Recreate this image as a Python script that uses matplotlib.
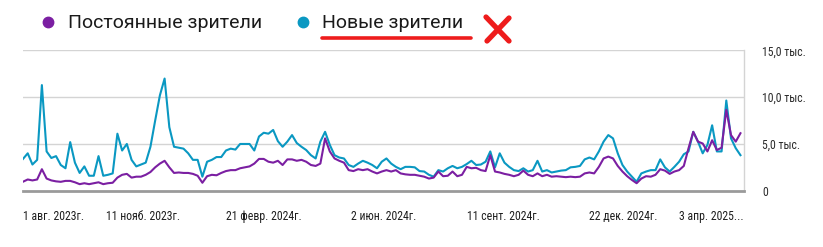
import numpy as np
import pandas as pd
import matplotlib
matplotlib.use('Agg')
import matplotlib.pyplot as plt
from matplotlib.lines import Line2D
from matplotlib.ticker import FuncFormatter
from matplotlib import font_manager

# данные: значения каждые 4 дня, начиная с 1 авг. 2023
start_date = '2023-08-01'
step_days = 4

new_viewers = [
    3400, 4000, 2800, 3300, 11300, 4200, 3500, 3700, 2750, 2400,
    5200, 3000, 1900, 2600, 1600, 1600, 3700, 1600, 1700, 1850,
    6100, 4300, 5000, 3300, 2600, 2800, 3000, 4700, 7500, 10200,
    12000, 6800, 4700, 4600, 4500, 4000, 3300, 3300, 1500, 3100,
    3300, 3600, 3600, 4300, 4500, 4400, 5000, 5000, 5000, 4300,
    5800, 6200, 6100, 6500, 5300, 4700, 5250, 5950, 5100, 4700,
    4350, 3800, 3450, 5250, 6300, 4900, 3800, 3550, 3450, 2750,
    2550, 2900, 3200, 3000, 2750, 2400, 3100, 3450, 2900, 2550,
    2300, 2550, 2550, 2500, 2100, 2050, 1700, 1500, 2200, 2050,
    2400, 2650, 2400, 2550, 2850, 3200, 2750, 2800, 3100, 4200,
    2500, 4000, 3000, 2550, 2200, 2100, 2400, 2050, 2200, 3200,
    2050, 2200, 1950, 2050, 2150, 2200, 2500, 2550, 2650, 3350,
    3550, 3350, 4200, 5250, 5950, 5600, 4000, 2750, 2050, 1500,
    960, 1850, 2050, 2200, 2200, 3350, 2500, 2050, 2550, 3100,
    3900, 4200, 6300, 5250, 4000, 4900, 7000, 4200, 4200, 9650,
    5600, 4550, 3800,
]

returning_viewers = [
    960, 1200, 1100, 1200, 2300, 1300, 1100, 1000, 950, 1050,
    1050, 900, 700, 800, 700, 800, 900, 700, 800, 850,
    1400, 1700, 1800, 1400, 1500, 1500, 1700, 2000, 2500, 2900,
    3200, 2500, 1900, 1950, 1900, 1900, 1800, 1600, 850, 1550,
    1700, 1650, 1900, 2100, 2200, 2200, 2400, 2500, 2600, 2900,
    3400, 3400, 3100, 3000, 3200, 2750, 3350, 3350, 3200, 3300,
    3100, 2750, 2650, 2900, 5600, 4200, 3450, 3200, 3000, 2200,
    2100, 2300, 2200, 2300, 2050, 1850, 2050, 2200, 2050, 2200,
    1850, 1750, 1700, 1700, 1600, 1500, 1300, 1400, 2050, 1550,
    1600, 2050, 1550, 1700, 2550, 2400, 2450, 2200, 2100, 3800,
    2050, 1950, 1800, 1700, 1550, 1700, 2150, 1700, 1550, 1850,
    1550, 1700, 1500, 1550, 1500, 1450, 1500, 1450, 1500, 1850,
    1950, 1850, 2550, 3450, 3650, 3450, 2650, 2050, 1550, 1150,
    800, 1300, 1550, 1500, 1700, 2300, 2150, 1800, 2050, 2200,
    2650, 4550, 6300, 5250, 5050, 4200, 5400, 4350, 4600, 8650,
    5950, 5250, 6150,
]

tick_dates = ['2023-08-01', '2023-11-11', '2024-02-21', '2024-06-02',
              '2024-09-11', '2024-12-22', '2025-04-03']
tick_labels = ['1 авг. 2023г.', '11 нояб. 2023г.', '21 февр. 2024г.', '2 июн. 2024г.',
               '11 сент. 2024г.', '22 дек. 2024г.', '3 апр. 2025...']
y_ticks = [0, 5000, 10000, 15000]

labels = ['Постоянные зрители', 'Новые зрители']
colors = ['#7b1fa2', '#0a98c2']

dates = pd.date_range(start_date, periods=len(new_viewers), freq=f'{step_days}D')

# узкий шрифт для подписей осей, если есть
names = {f.name for f in font_manager.fontManager.ttflist}
narrow = [n for n in ['Liberation Sans Narrow', 'Roboto Condensed', 'DejaVu Sans Condensed']
          if n in names] + ['DejaVu Sans']

fig = plt.figure(figsize=(8.23, 2.47), dpi=100)
ax = fig.add_axes([23 / 823, 1 - 190.7 / 247, (744 - 23) / 823, (190.7 - 50.5) / 247])

ax.plot(dates, new_viewers, color=colors[1], linewidth=1.5, solid_joinstyle='round')
ax.plot(dates, returning_viewers, color=colors[0], linewidth=1.5, solid_joinstyle='round')

ax.set_xlim(pd.Timestamp('2023-08-01'), pd.Timestamp('2025-04-03'))
ax.set_ylim(0, 15000)

# сетка и оси
for y in y_ticks[1:]:
    ax.axhline(y, color='#d4d4d4', linewidth=1, zorder=0)
for s in ['top', 'left']:
    ax.spines[s].set_visible(False)
ax.spines['bottom'].set_color('#9a9a9a')
ax.spines['bottom'].set_linewidth(2)
ax.spines['right'].set_color('#d4d4d4')
ax.spines['right'].set_linewidth(1)

ax.yaxis.tick_right()
ax.set_yticks(y_ticks)
ax.yaxis.set_major_formatter(FuncFormatter(
    lambda v, p: '0' if v == 0 else f'{v / 1000:.1f}'.replace('.', ',') + ' тыс.'))
ax.tick_params(axis='y', length=0, pad=13, labelsize=8.5, labelcolor='#2a2a2a')

ax.set_xticks(pd.to_datetime(tick_dates))
ax.set_xticklabels(tick_labels)
ax.tick_params(axis='x', length=0, pad=14, labelsize=8.5, labelcolor='#1e1e1e')
for lbl in ax.get_xticklabels() + ax.get_yticklabels():
    lbl.set_family(narrow)
    lbl.set_stretch('condensed')
xl = ax.get_xticklabels()
xl[0].set_horizontalalignment('left')
xl[-1].set_horizontalalignment('right')

# легенда сверху
fig.add_artist(Line2D([48 / 823], [1 - 22.5 / 247], marker='o', markersize=7.5,
                      color=colors[0], linestyle='none'))
fig.text(68 / 823, 1 - 22.5 / 247, labels[0], fontsize=14, family=['Roboto', 'DejaVu Sans'],
         va='center', ha='left', color='#1a1a1a')
fig.add_artist(Line2D([303 / 823], [1 - 22.5 / 247], marker='o', markersize=7.5,
                      color=colors[1], linestyle='none'))
fig.text(322 / 823, 1 - 22.5 / 247, labels[1], fontsize=14, family=['Roboto', 'DejaVu Sans'],
         va='center', ha='left', color='#1a1a1a')

# красная пометка
red = '#ee1c1c'
fig.add_artist(Line2D([322 / 823, 471 / 823], [1 - 37.5 / 247, 1 - 37.5 / 247],
                      color=red, linewidth=2.6, solid_capstyle='round'))
fig.add_artist(Line2D([486 / 823, 509 / 823], [1 - 17 / 247, 1 - 41 / 247],
                      color=red, linewidth=3.8, solid_capstyle='round'))
fig.add_artist(Line2D([509 / 823, 487 / 823], [1 - 18 / 247, 1 - 41 / 247],
                      color=red, linewidth=3.8, solid_capstyle='round'))

fig.savefig('out.png', dpi=100)
